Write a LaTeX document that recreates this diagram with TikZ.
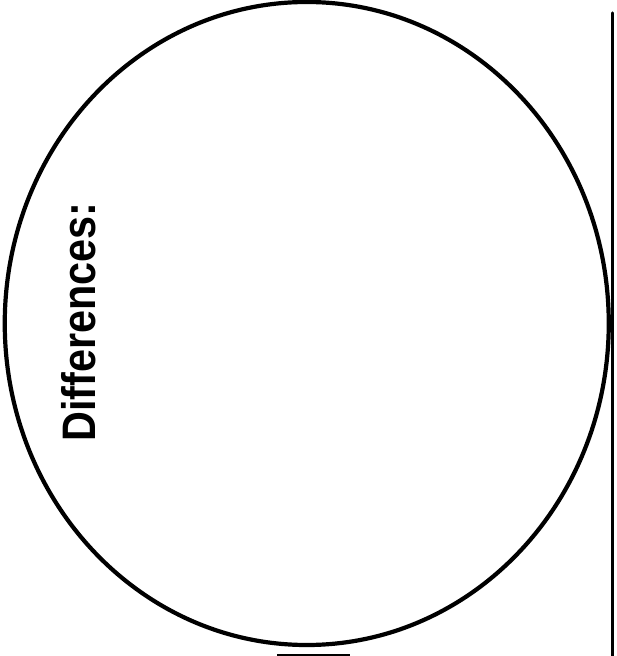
\documentclass[tikz,border=0pt]{standalone}
\usepackage{fontspec}
\setmainfont{Liberation Sans}
\usepackage{tikz}
\usetikzlibrary{positioning, calc}

\begin{document}
\begin{tikzpicture}[
        x=0.5pt, y=-0.5pt,
        contorno/.style={
            draw=black,
            line width=2.1pt
        },
        titulo/.style={
            rotate=90,
            anchor=base west,
            inner sep=0pt,
            font=\fontsize{23.5}{28}\selectfont\bfseries
        }
    ]
    \useasboundingbox (0,0) rectangle (616,656);
    \draw[contorno] (306.75,323.5) ellipse [x radius=302, y radius=321.5];
    \node[titulo] (dif) at (95,442) {\scalebox{0.88}[1]{Differences:}};
    \draw[line width=1.5pt, line cap=round] (612,13) -- (612,656);
    \draw[line width=1.2pt] (277,655) -- (350,655);
\end{tikzpicture}
\end{document}
